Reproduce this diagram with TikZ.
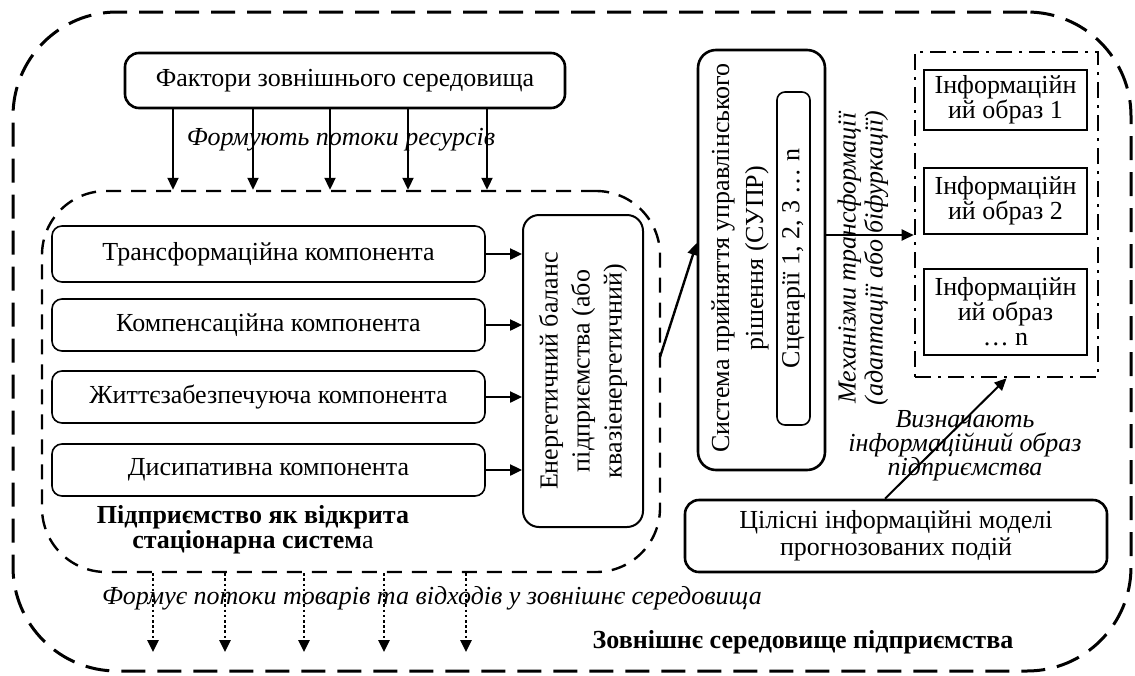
\documentclass[tikz,border=0pt]{standalone}
\usepackage{fontspec}
\setmainfont{Liberation Serif}
\usetikzlibrary{arrows.meta, positioning, calc}

\tikzset{
  box/.style={draw, rounded corners=5pt, line width=0.8pt, align=center, inner sep=0pt},
  thickbox/.style={box, line width=1.3pt, rounded corners=7pt},
  imgbox/.style={draw, line width=0.6pt, align=center, inner sep=0pt, minimum width=81.5pt, font=\fontsize{13}{12.5}\selectfont},
  arr/.style={-{Triangle[length=6pt,width=5.5pt]}, line width=1pt},
  dotarr/.style={-{Triangle[length=6pt,width=5.5pt]}, line width=1.3pt, dash pattern=on 1.3pt off 1.3pt},
  note/.style={font=\itshape, align=center},
}

\begin{document}
\fontsize{13}{15}\selectfont
\begin{tikzpicture}[x=0.5pt, y=-0.5pt]
\useasboundingbox (0,0) rectangle (1135,675);

% Outer environment
\node[draw, line width=1.5pt, dash pattern=on 12pt off 6pt, rounded corners=52pt, minimum width=559pt, minimum height=329.5pt] (env) at (572,341.5) {};
\node[font=\bfseries] (envlabel) at (803,642) {Зовнішнє середовище підприємства};

% Factors of environment
\node[thickbox, minimum width=220pt, minimum height=27.5pt] (fact) at (345,80.5) {Фактори зовнішнього середовища};
\node[note] (res) at (341,140) {Формують потоки ресурсів};

% Enterprise as open system
\node[draw, line width=1.2pt, dash pattern=on 7.5pt off 5pt, rounded corners=32pt, minimum width=309pt, minimum height=190.5pt] (firm) at (351,381.5) {};
\foreach \x in {173,253,330,408,487}
  \draw[arr] (\x,0 |- fact.south) -- (\x,0 |- firm.north);

% Components
\node[box, minimum width=216.5pt, minimum height=28pt] (c1) at (268.5,254) {Трансформаційна компонента};
\node[box, minimum width=216.5pt, minimum height=26pt] (c2) at (268.5,325) {Компенсаційна компонента};
\node[box, minimum width=216.5pt, minimum height=26pt] (c3) at (268.5,397) {Життєзабезпечуюча компонента};
\node[box, minimum width=216.5pt, minimum height=26pt] (c4) at (268.5,470) {Дисипативна компонента};

% Energy balance
\node[box, line width=1pt, rounded corners=8pt, minimum width=60pt, minimum height=156pt] (en) at (583,371) {};
\node[rotate=90, font=\fontsize{13}{16}\selectfont, align=center] (entext) at (en) {Енергетичний баланс\\підприємства (або\\квазіенергетичний)};
\foreach \i in {1,...,4}
  \draw[arr, line width=1.2pt] (c\i.east) -- (c\i.east -| en.west);

\node[font=\bfseries\fontsize{13}{12.5}\selectfont, align=center] (firmlabel) at (253,530) {Підприємство як відкрита\\стаціонарна систем{\mdseries а}};

% Decision system
\node[thickbox, minimum width=63.5pt, minimum height=210pt, rounded corners=9pt] (sys) at (761.5,260) {};
\node[rotate=90, font=\fontsize{13}{17}\selectfont, align=center] (systext) at (740,258) {Система прийняття управлінського\\рішення (СУПР)};
\node[box, rotate=90, minimum width=166.5pt, minimum height=16.5pt, rounded corners=4pt] (scen) at (793.5,258.5) {Сценарії 1, 2, 3 … n};

\coordinate (firmout) at (660,357);
\draw[arr, line width=1.2pt] (firmout) -- ([yshift=8.5pt]sys.west);

% Information images
\node[draw, line width=1.3pt, dash pattern=on 8pt off 3.5pt on 1.5pt off 3.5pt, minimum width=91.5pt, minimum height=162.5pt] (imgs) at (1006.5,214.5) {};
\node[imgbox, minimum height=30pt] (img1) at (1005.5,100) {Інформаційн\\ий образ 1};
\node[imgbox, minimum height=33pt] (img2) at (1005.5,201) {Інформаційн\\ий образ 2};
\node[imgbox, minimum height=43pt] (img3) at (1005.5,312) {Інформаційн\\ий образ\\… n};

\draw[arr, line width=1.2pt] ([yshift=12.5pt]sys.east) -- ([yshift=12.5pt]sys.east -| imgs.west);
\node[note, rotate=90, font=\itshape\fontsize{13}{13.5}\selectfont] (mech) at (863,258) {Механізми трансформації\\(адаптації або біфуркації)};

% Forecast models
\node[thickbox, minimum width=211pt, minimum height=36pt, font=\fontsize{13}{13.5}\selectfont] (models) at (896,536) {Цілісні інформаційні моделі\\прогнозованих подій};
\draw[arr] ([xshift=-5.5pt]models.north) -- (imgs.south);
\node[note, font=\itshape\fontsize{13}{12}\selectfont] (define) at (965,446) {Визначають\\інформаційний образ\\підприємства};

% Outflows
\coordinate (outflow) at (0,652);
\foreach \x in {153,225,304,384,466}
  \draw[dotarr] (\x,0 |- firm.south) -- (\x,0 |- outflow);
\node[note] (goods) at (432,598) {Формує потоки товарів та відходів у зовнішнє середовища};
\end{tikzpicture}
\end{document}
